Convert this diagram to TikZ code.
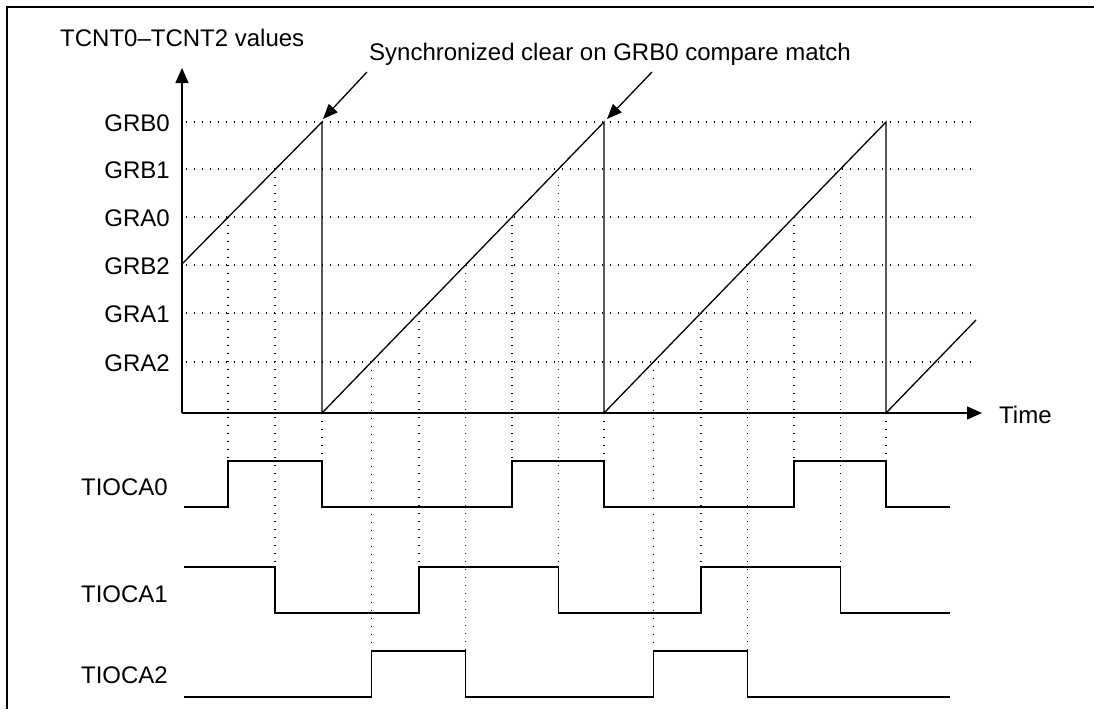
\documentclass[tikz,border=0pt]{standalone}
\usepackage{fontspec}
\setmainfont{Liberation Sans}
\usetikzlibrary{arrows.meta}
\begin{document}
\begin{tikzpicture}[x=1pt,y=-1pt,
  frame/.style={line width=2pt},
  sig/.style={line width=1.3pt, line join=miter},
  grid/.style={line width=1.2pt, dash pattern=on 1.2pt off 6.8pt},
  lbl/.style={font=\fontsize{24}{28}\selectfont, inner sep=0pt},
  axis/.style={line width=1.4pt},
  tip/.style={-{Triangle[length=15pt,width=13pt]}},
  pointer/.style={line width=1.3pt,-{Triangle[length=15pt,width=12pt]}}
]
\useasboundingbox (0,0) rectangle (1094,709);
% frame
\draw[frame] (7,709) -- (7,7) -- (1094,7);

% horizontal dotted levels
\foreach \y in {122,169,217,265,313,362}
  \draw[grid] (186,\y) -- (975,\y);

% vertical dotted lines (crossing -> signal)
\foreach \x/\a/\b in {228/217/461, 275/169/567, 322/413/461,
    371.4/362/651, 418.9/313/567, 465.4/265/651, 511.9/217/461, 558.4/169/567, 604/413/461,
    653.4/362/651, 700.9/313/567, 747.4/265/651, 793.9/217/461, 840.4/169/567, 886/413/461}
  \draw[grid] (\x,\a) -- (\x,\b);

% axes
\coordinate (O) at (182,413);
\coordinate (ytop) at (182,68);
\coordinate (xend) at (982,413);
\draw[axis,tip] (O) -- (ytop);
\draw[axis,tip] (O) -- (xend);

% counter ramps
\draw[sig] (182,264) -- (322,122) -- (322,413) -- (604,122) -- (604,413)
  -- (886,122) -- (886,413) -- (976,320);

% level labels
\node[lbl,anchor=base east] (grb0) at (170,131) {GRB0};
\node[lbl,anchor=base east] (grb1) at (170,178) {GRB1};
\node[lbl,anchor=base east] (gra0) at (170,226) {GRA0};
\node[lbl,anchor=base east] (grb2) at (170,274) {GRB2};
\node[lbl,anchor=base east] (gra1) at (170,322) {GRA1};
\node[lbl,anchor=base east] (gra2) at (170,371) {GRA2};

\node[lbl,anchor=base west] (ttl) at (60,47) {TCNT0–TCNT2 values};
\node[lbl,anchor=base west] (time) at (999,423) {Time};
\node[lbl,anchor=base west] (sync) at (369,60) {Synchronized clear on GRB0 compare match};

% pointers
\coordinate (p1s) at (367,72);
\coordinate (p1e) at (323,119);
\coordinate (p2s) at (652,72);
\coordinate (p2e) at (607,119);
\draw[pointer] (p1s) -- (p1e);
\draw[pointer] (p2s) -- (p2e);

% signals
\node[lbl,anchor=base east] (s0) at (168,495) {TIOCA0};
\node[lbl,anchor=base east] (s1) at (168,602) {TIOCA1};
\node[lbl,anchor=base east] (s2) at (168,683) {TIOCA2};

\draw[sig] (184,507) -- (228,507) -- (228,461) -- (322,461) -- (322,507)
  -- (511.9,507) -- (511.9,461) -- (604,461) -- (604,507)
  -- (793.9,507) -- (793.9,461) -- (886,461) -- (886,507) -- (950,507);
\draw[sig] (184,567) -- (275,567) -- (275,613) -- (418.9,613) -- (418.9,567)
  -- (558.4,567) -- (558.4,613) -- (700.9,613) -- (700.9,567)
  -- (840.4,567) -- (840.4,613) -- (950,613);
\draw[sig] (184,697) -- (371.4,697) -- (371.4,651) -- (465.4,651) -- (465.4,697)
  -- (653.4,697) -- (653.4,651) -- (747.4,651) -- (747.4,697) -- (950,697);
\end{tikzpicture}
\end{document}
